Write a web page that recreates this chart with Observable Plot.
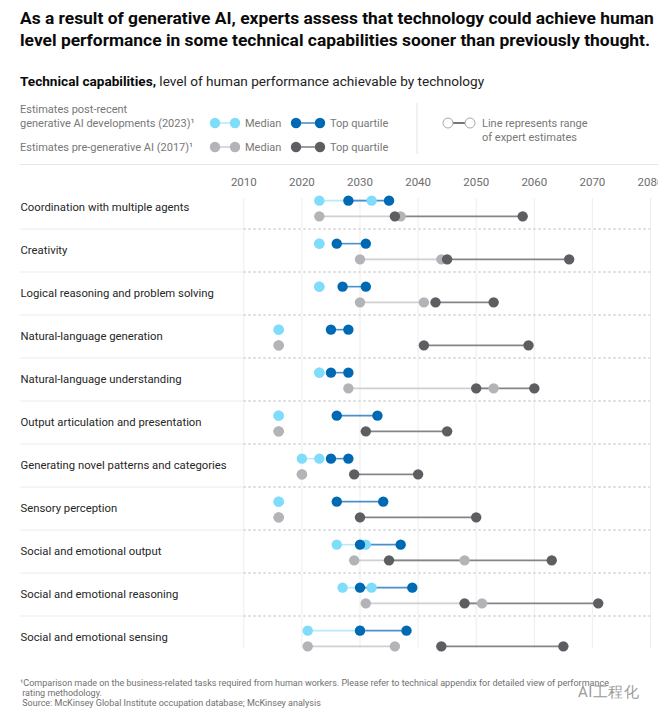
<!DOCTYPE html>
<html>
<head>
<meta charset="utf-8">
<script src="https://cdn.jsdelivr.net/npm/d3@7"></script>
<script src="https://cdn.jsdelivr.net/npm/@observablehq/plot@0.6"></script>
<style>
  html, body { margin: 0; padding: 0; background: #fff; }
  body { width: 658px; height: 722px; position: relative; overflow: hidden;
         font-family: Roboto, "Liberation Sans", sans-serif; color: #111; }
  .abs { position: absolute; white-space: nowrap; }
  #title { left: 20px; top: 7px; font-size: 17.4px; font-weight: 700; line-height: 22px; color: #0a0a0a; }
  #subtitle { left: 20px; top: 73px; font-size: 13.6px; color: #222; }
  #subtitle b { font-weight: 700; color: #0a0a0a; }
  #legend { left: 0; top: 96px; }
  #rule { left: 20px; top: 164px; width: 638px; height: 1px; background: #e6e6e6; }
  #chart { left: 0; top: 166px; }
  #foot { left: 20px; top: 678px; font-size: 9px; line-height: 10px; color: #707070; }
  #wm { left: 578px; top: 683px; font-size: 15px; color: #9a9a9a; letter-spacing: 0.5px; }
</style>
</head>
<body>
<div id="title" class="abs">As a result of generative AI, experts assess that technology could achieve human<br>level performance in some technical capabilities sooner than previously thought.</div>
<div id="subtitle" class="abs"><b>Technical capabilities,</b> level of human performance achievable by technology</div>
<div id="legend" class="abs"></div>
<div id="rule" class="abs"></div>
<div id="chart" class="abs"></div>
<div id="foot" class="abs">¹Comparison made on the business-related tasks required from human workers. Please refer to technical appendix for detailed view of performance<br>&nbsp;rating methodology.<br>&nbsp;Source: McKinsey Global Institute occupation database; McKinsey analysis</div>
<div id="wm" class="abs">AI工程化</div>
<script>
// ---------- data ----------
const categories = [
  "Coordination with multiple agents",
  "Creativity",
  "Logical reasoning and problem solving",
  "Natural-language generation",
  "Natural-language understanding",
  "Output articulation and presentation",
  "Generating novel patterns and categories",
  "Sensory perception",
  "Social and emotional output",
  "Social and emotional reasoning",
  "Social and emotional sensing"
];
// Estimates post-recent generative AI developments (2023)
const median2023Low  = [2023, 2023, 2023, 2016, 2023, 2016, 2020, 2016, 2026, 2027, 2021];
const median2023High = [2032, 2023, 2023, 2016, 2023, 2016, 2023, 2016, 2031, 2032, 2030];
const top2023Low     = [2028, 2026, 2027, 2025, 2025, 2026, 2025, 2026, 2030, 2030, 2030];
const top2023High    = [2035, 2031, 2031, 2028, 2028, 2033, 2028, 2034, 2037, 2039, 2038];
// Estimates pre-generative AI (2017)
const median2017Low  = [2023, 2030, 2030, 2016, 2028, 2016, 2020, 2016, 2029, 2031, 2021];
const median2017High = [2037, 2044, 2041, 2016, 2053, 2016, 2020, 2016, 2048, 2051, 2036];
const top2017Low     = [2036, 2045, 2043, 2041, 2050, 2031, 2029, 2030, 2035, 2048, 2044];
const top2017High    = [2058, 2066, 2053, 2059, 2060, 2045, 2040, 2050, 2063, 2071, 2065];
const xTicks = [2010, 2020, 2030, 2040, 2050, 2060, 2070, 2080];

// ---------- styles ----------
const C = {
  m23dot: "#7fdcfa", m23line: "#b8eafa",
  t23dot: "#0069b4", t23line: "#4a90cb",
  m17dot: "#b2b4b7", m17line: "#cfd0d2",
  t17dot: "#5d5e62", t17line: "#848587"
};
const FONT = "Roboto, 'Liberation Sans', sans-serif";

// ---------- legend ----------
(function legend() {
  const svg = d3.select("#legend").append("svg").attr("width", 658).attr("height", 64)
    .style("font-family", FONT).style("display", "block");
  const g = svg.append("g");
  const txt = (x, y, s, size = 11, fill = "#777") =>
    g.append("text").attr("x", x).attr("y", y).attr("dy", "0.35em")
      .attr("font-size", size).attr("fill", fill).text(s);
  txt(20, 13, "Estimates post-recent");
  txt(20, 27, "generative AI developments (2023)¹");
  txt(20, 51, "Estimates pre-generative AI (2017)¹");
  const pair = (x1, x2, y, dot, line) => {
    g.append("line").attr("x1", x1).attr("x2", x2).attr("y1", y).attr("y2", y)
      .attr("stroke", line).attr("stroke-width", 1.6);
    [x1, x2].forEach(x => g.append("circle").attr("cx", x).attr("cy", y).attr("r", 5.2).attr("fill", dot));
  };
  pair(215, 235, 27, C.m23dot, C.m23line); txt(245, 27, "Median");
  pair(296, 320, 27, C.t23dot, C.t23line); txt(330, 27, "Top quartile");
  pair(215, 235, 51, C.m17dot, C.m17line); txt(245, 51, "Median");
  pair(296, 320, 51, C.t17dot, C.t17line); txt(330, 51, "Top quartile");
  g.append("line").attr("x1", 417).attr("x2", 417).attr("y1", 7).attr("y2", 58)
    .attr("stroke", "#e3e3e3");
  g.append("line").attr("x1", 448).attr("x2", 470).attr("y1", 27).attr("y2", 27)
    .attr("stroke", "#555").attr("stroke-width", 1.6);
  [448, 470].forEach(x => g.append("circle").attr("cx", x).attr("cy", 27).attr("r", 5)
    .attr("fill", "#fff").attr("stroke", "#a9a9a9").attr("stroke-width", 1));
  txt(482, 27, "Line represents range");
  txt(482, 41, "of expert estimates");
})();

// ---------- chart ----------
const rows = (lo, hi) => categories.map((c, i) => ({category: c, low: lo[i], high: hi[i]}));
const m23 = rows(median2023Low, median2023High);
const t23 = rows(top2023Low, top2023High);
const m17 = rows(median2017Low, median2017High);
const t17 = rows(top2017Low, top2017High);
const OFF = 7.85;
const R = 5.2;

const line = (data, dy, stroke) =>
  Plot.ruleY(data, {y: "category", x1: "low", x2: "high", dy, stroke, strokeWidth: 1.6});
const dots = (data, dy, fill) => [
  Plot.dot(data, {y: "category", x: "low", dy, r: R, fill}),
  Plot.dot(data, {y: "category", x: "high", dy, r: R, fill})
];
const seps = categories.slice(0, -1);
const SEP = 20.5;

const plot = Plot.plot({
  width: 658,
  height: 490,
  marginLeft: 20,
  marginRight: 8,
  marginTop: 32,
  marginBottom: 8,
  style: {fontFamily: FONT, fontSize: "11.5px", color: "#6d6d6d", background: "transparent", overflow: "hidden"},
  x: {domain: [2010, 2080], range: [243.3, 650], axis: "top", ticks: xTicks,
      tickSize: 0, tickPadding: 13, tickFormat: d => String(d), label: null},
  y: {type: "point", domain: categories, range: [40.15, 474.5], padding: 0, axis: null},
  marks: [
    Plot.ruleX(xTicks, {stroke: "#ededed", strokeWidth: 1}),
    Plot.ruleY(seps, {y: d => d, dy: SEP, stroke: "#ececec"}),
    Plot.ruleY(seps, {y: d => d, dy: SEP, x1: () => 2010, x2: () => 2080, stroke: "#fff", strokeWidth: 2}),
    Plot.ruleY(seps, {y: d => d, dy: SEP, x1: () => 2010, x2: () => 2080, stroke: "#bdbdbd", strokeDasharray: "2.5,2.5"}),
    Plot.text(categories, {y: d => d, text: d => d, frameAnchor: "left", textAnchor: "start",
      dy: -1, fill: "#262626", fontSize: 11.3}),
    line(m23, -OFF, C.m23line),
    line(t23, -OFF, C.t23line),
    line(m17, OFF, C.m17line),
    line(t17, OFF, C.t17line),
    ...dots(m23, -OFF, C.m23dot),
    ...dots(t23, -OFF, C.t23dot),
    ...dots(m17, OFF, C.m17dot),
    ...dots(t17, OFF, C.t17dot)
  ]
});
document.getElementById("chart").appendChild(plot);
</script>
</body>
</html>
